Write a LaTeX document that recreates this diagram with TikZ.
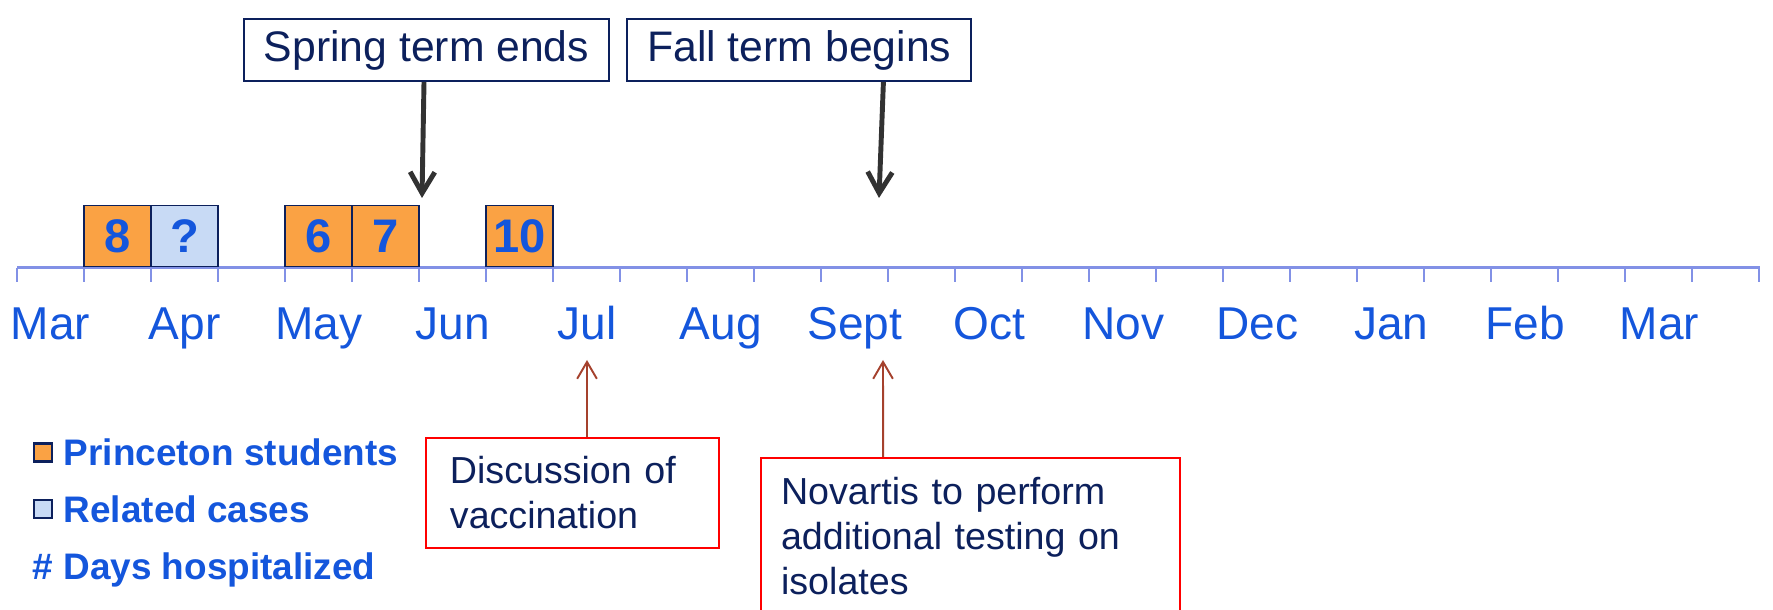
\documentclass[tikz,border=0pt]{standalone}
\usepackage{fontspec}
\setmainfont{Liberation Sans}
\usetikzlibrary{arrows.meta, positioning}
\definecolor{studorange}{RGB}{250,162,68}
\definecolor{relblue}{RGB}{200,218,245}
\definecolor{labelblue}{RGB}{20,86,220}
\definecolor{navytext}{RGB}{12,32,92}
\definecolor{axisblue}{RGB}{130,145,230}
\definecolor{notered}{RGB}{255,0,0}
\definecolor{notebrown}{RGB}{165,65,45}
\definecolor{termgray}{RGB}{50,50,50}

\begin{document}
\begin{tikzpicture}[x=0.01cm, y=-0.01cm,
  month/.style = {text=labelblue, font=\fontsize{13.1}{15}\selectfont, inner sep=0, text height=0.34cm, text depth=0.1cm},
  casebox/.style = {draw=navytext, line width=0.5pt, outer sep=0, minimum width=0.67cm, minimum height=0.61cm, inner sep=0, text=labelblue, font=\bfseries\fontsize{13.4}{15}\selectfont},
  termbox/.style = {draw=navytext, line width=0.6pt, text=navytext, minimum height=0.62cm, inner xsep=0.2cm, inner ysep=0.1cm, font=\fontsize{12.15}{14}\selectfont},
  notebox/.style = {draw=notered, line width=0.6pt, text=navytext, align=left, font=\fontsize{10.7}{12.8}\selectfont},
  legend/.style = {text=labelblue, font=\bfseries\fontsize{10.5}{12}\selectfont, inner sep=0},
  legmark/.style = {draw=navytext, line width=0.6pt, minimum size=0.18cm, inner sep=0},
  termarrow/.style = {draw=termgray, line width=1.4pt, -{Straight Barb[length=6pt,width=7pt]}},
  notearrow/.style = {draw=notebrown, line width=0.55pt, -{Straight Barb[length=4.8pt,width=5.6pt]}},
  node distance=1.34cm]
\useasboundingbox (0,0) rectangle (1773,610);

% time axis
\draw[axisblue, line width=0.85pt] (17,268) -- (1760,268);
\foreach \t in {0,...,26} \draw[axisblue, line width=0.6pt] (17+67*\t,268) -- ++(0,14);

\node[month] (mar) at (50.5,327) {Mar};
\node[month] (apr) [right of=mar] {Apr};
\node[month] (may) [right of=apr] {May};
\node[month] (jun) [right of=may] {Jun};
\node[month] (jul) [right of=jun] {Jul};
\node[month] (aug) [right of=jul] {Aug};
\node[month] (sep) [right of=aug] {Sept};
\node[month] (oct) [right of=sep] {Oct};
\node[month] (nov) [right of=oct] {Nov};
\node[month] (dec) [right of=nov] {Dec};
\node[month] (jan) [right of=dec] {Jan};
\node[month] (feb) [right of=jan] {Feb};
\node[month] (mar2) [right of=feb] {Mar};

% cases
\node[casebox, fill=studorange] (c8) at (117.5,236) {8};
\node[casebox, fill=relblue, right=0pt of c8] (cq) {?};
\node[casebox, fill=studorange] (c6) at (318.5,236) {6};
\node[casebox, fill=studorange, right=0pt of c6] (c7) {7};
\node[casebox, fill=studorange] (c10) at (519.5,236) {10};

% terms
\node[termbox] (spring) at (426.5,50) {Spring term ends};
\node[termbox, right=0.16cm of spring] (fall) {Fall term begins};
\coordinate (springend) at (422,198);
\coordinate (fallend) at (879,198);
\draw[termarrow] ([xshift=-0.025cm]spring.south) -- (springend);
\draw[termarrow] ([xshift=2.57cm]fall.south west) -- (fallend);

% notes
\node[notebox, text width=2.45cm, inner xsep=0.24cm, minimum height=1.1cm] (disc) at (572.5,493) {Discussion of\\vaccination};
\node[notebox, text width=3.79cm, inner xsep=0.2cm, inner ysep=0.19cm, anchor=north west] (novartis) at (760,457) {Novartis to perform\\additional testing on\\isolates};
\coordinate (julmark) at (587,360);
\coordinate (septmark) at (883,360);
\draw[notearrow] ([xshift=0.145cm]disc.north) -- (julmark);
\draw[notearrow] ([xshift=1.23cm]novartis.north west) -- (septmark);

% legend
\node[legmark, fill=studorange] (stumark) at (43,452.5) {};
\node[legend, right=0.1cm of stumark] (stutext) {Princeton students};
\node[legmark, fill=relblue] (relmark) at (43,509) {};
\node[legend, right=0.1cm of relmark] (reltext) {Related cases};
\node[legend, anchor=base west] (daystext) at (32,580) {\# Days hospitalized};
\end{tikzpicture}
\end{document}
